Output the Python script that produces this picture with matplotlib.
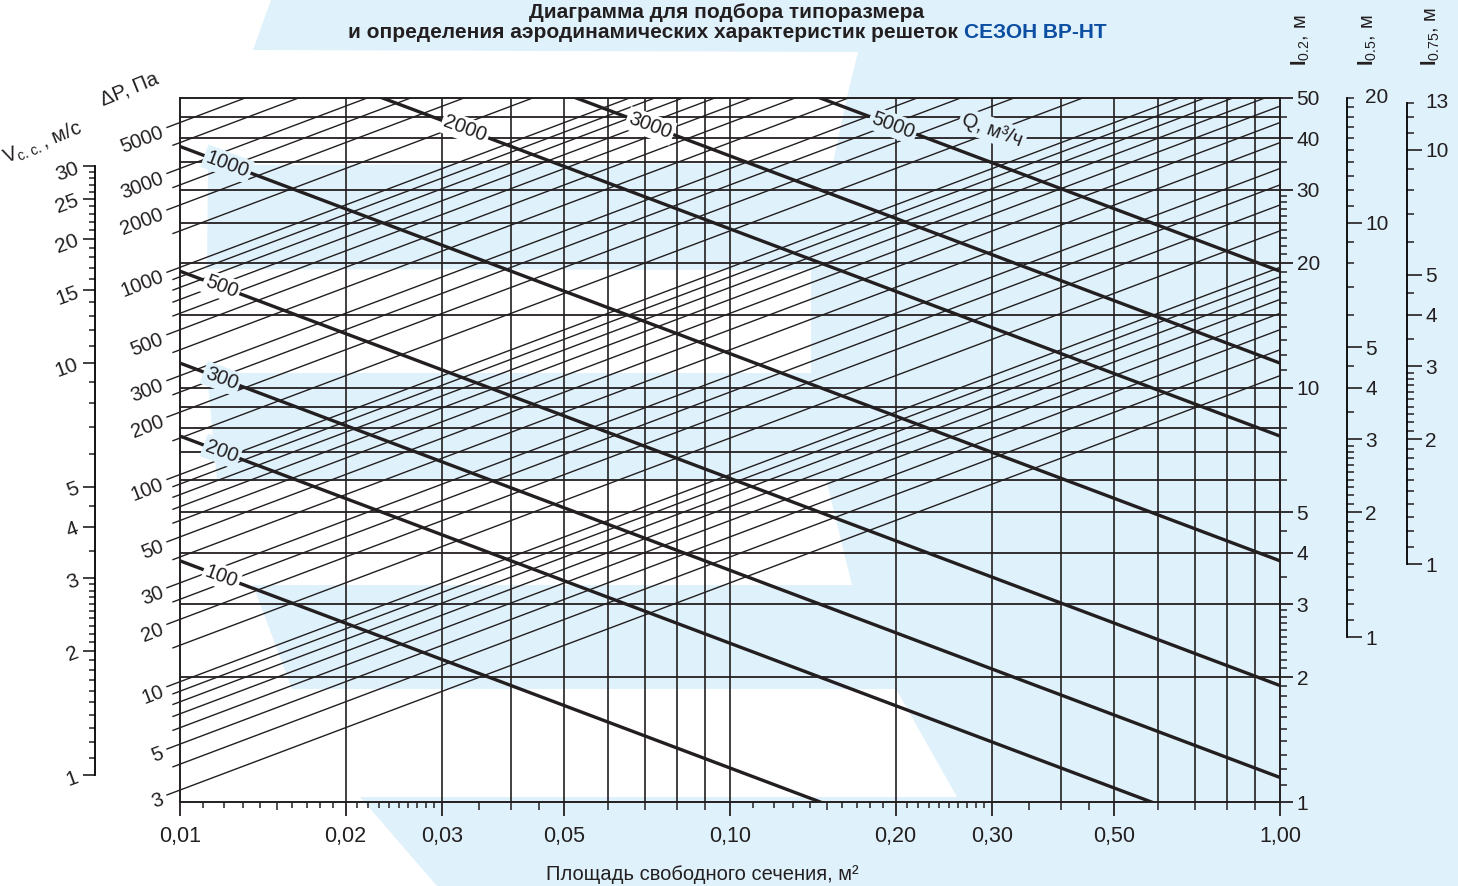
import numpy as np
import matplotlib
matplotlib.use("Agg")
import matplotlib.pyplot as plt
from matplotlib.patches import Polygon
from matplotlib.ticker import FixedLocator, FixedFormatter, NullFormatter
from matplotlib import font_manager

# ---- values ----
flow_q = [100, 200, 300, 500, 1000, 2000, 3000, 5000]            # Q, m3/h (thick lines)
flow_label_area = [0.0119, 0.0119, 0.0119, 0.0119, 0.0122, 0.033, 0.0716, 0.198]
dp_lines = [3, 4, 5, 6, 7, 8, 9, 10, 15, 20, 25, 30, 40, 50, 60, 70, 80, 90, 100,
            150, 200, 250, 300, 400, 500, 600, 700, 800, 900, 1000, 1500, 2000,
            2500, 3000, 4000, 5000]                                  # dP, Pa (thin lines)
dp_labeled = [3, 5, 10, 20, 30, 50, 100, 200, 300, 500, 1000, 2000, 3000, 5000]
k_flow = 0.00382    # l0.2 = k_flow * Q / sqrt(A)
k_dp = 6.17         # l0.2 = k_dp * sqrt(dP * A)

area_major = [0.01, 0.02, 0.03, 0.05, 0.10, 0.20, 0.30, 0.50, 1.00]
area_major_txt = ["0,01", "0,02", "0,03", "0,05", "0,10", "0,20", "0,30", "0,50", "1,00"]
area_grid = [0.02, 0.03, 0.04, 0.05, 0.06, 0.07, 0.08, 0.09, 0.10,
             0.2, 0.3, 0.4, 0.5, 0.6, 0.7, 0.8, 0.9]
area_mid = [0.015, 0.035, 0.04, 0.045, 0.06, 0.07, 0.08, 0.09,
            0.15, 0.35, 0.4, 0.45, 0.6, 0.7, 0.8, 0.9]
area_small = [0.011, 0.012, 0.013, 0.014, 0.016, 0.017, 0.018, 0.019,
              0.021, 0.022, 0.023, 0.024, 0.025, 0.026, 0.027, 0.028, 0.029,
              0.11, 0.12, 0.13, 0.14, 0.16, 0.17, 0.18, 0.19,
              0.21, 0.22, 0.23, 0.24, 0.25, 0.26, 0.27, 0.28, 0.29]

tenths_1_3 = [1.1, 1.2, 1.3, 1.4, 1.5, 1.6, 1.7, 1.8, 1.9,
              2.1, 2.2, 2.3, 2.4, 2.5, 2.6, 2.7, 2.8, 2.9, 3.5, 4.5, 6, 7, 8, 9]
l02_major = [1, 2, 3, 4, 5, 10, 20, 30, 40, 50]
l02_minor = tenths_1_3 + [11, 12, 13, 14, 15, 16, 17, 18, 19,
                          21, 22, 23, 24, 25, 26, 27, 28, 29, 35, 45]
l02_grid = [2, 3, 4, 5, 6, 7, 8, 9, 10, 15, 20, 25, 30, 35, 40, 45]

v_major = [1, 2, 3, 4, 5, 10, 15, 20, 25, 30]
v_minor = tenths_1_3 + [11, 12, 13, 14, 16, 17, 18, 19, 21, 22, 23, 24, 26, 27, 28, 29]

l05_major = [1, 2, 3, 4, 5, 10]
l05_minor = tenths_1_3 + [11, 12, 13, 14, 15, 16, 17, 18, 19, 20]
l075_major = [1, 2, 3, 4, 5, 10]
l075_minor = tenths_1_3 + [11, 12, 13]

INK = "#231f20"
BLUE_BG = "#dff1fb"
BRAND = "#0b4ea2"

names = {f.name for f in font_manager.fontManager.ttflist}
FONT = "Liberation Sans Narrow" if "Liberation Sans Narrow" in names else "Liberation Sans"
plt.rcParams["font.family"] = [FONT, "DejaVu Sans"]
plt.rcParams["mathtext.fontset"] = "custom"
plt.rcParams["mathtext.rm"] = FONT
plt.rcParams["mathtext.bf"] = FONT + ":bold"
plt.rcParams["mathtext.default"] = "regular"
plt.rcParams["text.color"] = INK

W, H = 1458, 886
fig = plt.figure(figsize=(W / 100, H / 100), dpi=100)


def fxy(x, y):
    return (x / W, 1 - y / H)


# decorative light-blue background shape
bg_px = [(271, 0), (1458, 0), (1458, 886), (437, 886), (360, 797), (957, 797),
         (896, 689), (292, 689), (253, 585), (852, 585), (826, 479), (217, 480),
         (207, 373), (811, 373), (811, 270), (207, 269), (208, 165), (833, 163),
         (847, 97), (858, 52), (253, 50)]
fig.patches.append(Polygon([fxy(x, y) for x, y in bg_px], closed=True,
                           transform=fig.transFigure, facecolor=BLUE_BG,
                           edgecolor="none", zorder=-5))

L, R, T, B = 180, 1280, 98, 802
ax = fig.add_axes([L / W, 1 - B / H, (R - L) / W, (B - T) / H])
ax.set_facecolor("none")
ax.set_xscale("log")
ax.set_yscale("log")
ax.set_xlim(0.01, 1)
ax.set_ylim(1, 50)
for s in ax.spines.values():
    s.set_linewidth(1.4)
    s.set_color(INK)

for a in area_grid:
    ax.axvline(a, color=INK, lw=1.2, zorder=1)
for v in l02_grid:
    ax.axhline(v, color=INK, lw=1.3, zorder=1)

# thin lines: constant dP
a_in = np.array([0.01, 1.0])
for p in dp_lines:
    ax.plot(a_in, k_dp * np.sqrt(p * a_in), color=INK, lw=1.0, zorder=2)
    ext = 13 if p in dp_labeled else 7
    a0 = 0.01 * 10 ** (-ext / 550)
    a_t = np.array([a0, 0.01])
    ax.plot(a_t, k_dp * np.sqrt(p * a_t), color=INK, lw=1.0, clip_on=False)
    if p in dp_labeled:
        ax.annotate(str(p), xy=(a0, k_dp * np.sqrt(p * a0)), xytext=(-3, -3),
                    textcoords="offset points", ha="right", va="center",
                    rotation=21, rotation_mode="anchor", fontsize=14.5,
                    annotation_clip=False)

# thick lines: constant Q
label_bg = {100: "white", 200: BLUE_BG, 300: BLUE_BG, 500: "white",
            1000: BLUE_BG, 2000: "white", 3000: "white", 5000: BLUE_BG}
for q, a_lab in zip(flow_q, flow_label_area):
    ax.plot(a_in, k_flow * q / np.sqrt(a_in), color=INK, lw=2.4, zorder=3,
            solid_capstyle="butt")
    ax.text(a_lab, k_flow * q / np.sqrt(a_lab), str(q), rotation=-20.6,
            rotation_mode="anchor", ha="center", va="center", fontsize=14.5,
            zorder=6, bbox=dict(boxstyle="square,pad=0.12", fc=label_bg[q], ec="none"))
ax.text(0.30, 41.8, "Q, м³/ч", rotation=-20.6, rotation_mode="anchor",
        ha="center", va="center", fontsize=14.5, zorder=6,
        bbox=dict(boxstyle="square,pad=0.15", fc=BLUE_BG, ec="none"))

# bottom axis
ax.xaxis.set_major_locator(FixedLocator(area_major))
ax.xaxis.set_major_formatter(FixedFormatter(area_major_txt))
ax.xaxis.set_minor_locator(FixedLocator(area_mid + area_small))
ax.xaxis.set_minor_formatter(NullFormatter())
ax.tick_params(axis="x", which="major", length=10, width=1.3, labelsize=15.5,
               pad=7.5, colors=INK)
ax.tick_params(axis="x", which="minor", length=4.3, width=1.1, colors=INK)
ax.tick_params(axis="x", which="both", top=False)
for t in ax.xaxis.get_minor_ticks()[:len(area_mid)]:
    t.tick1line.set_markersize(5.8)

# right axis l0.2
ax.yaxis.tick_right()
ax.yaxis.set_major_locator(FixedLocator(l02_major))
ax.yaxis.set_major_formatter(FixedFormatter([str(v) for v in l02_major]))
ax.yaxis.set_minor_locator(FixedLocator(l02_minor))
ax.yaxis.set_minor_formatter(NullFormatter())
ax.tick_params(axis="y", which="major", length=9.4, width=1.3, labelsize=15,
               pad=2.5, colors=INK)
ax.tick_params(axis="y", which="minor", length=5, width=1.1, colors=INK)


def side_axis(xpx, lo, hi):
    a = fig.add_axes([xpx / W, 1 - B / H, 0.0001, (B - T) / H])
    a.set_facecolor("none")
    a.set_yscale("log")
    a.set_ylim(lo, hi)
    a.set_xticks([])
    for s in ["top", "bottom"]:
        a.spines[s].set_visible(False)
    return a


# left velocity scale
axv = side_axis(95, 0.8603, 43.85)
axv.spines["right"].set_visible(False)
axv.spines["left"].set_bounds(1, 30)
axv.spines["left"].set_linewidth(1.3)
axv.yaxis.set_major_locator(FixedLocator(v_major))
axv.yaxis.set_major_formatter(FixedFormatter([str(v) for v in v_major]))
axv.yaxis.set_minor_locator(FixedLocator(v_minor))
axv.yaxis.set_minor_formatter(NullFormatter())
axv.tick_params(axis="y", which="major", length=9, width=1.2, labelsize=15,
                labelrotation=20, pad=1, colors=INK)
axv.tick_params(axis="y", which="minor", length=4.5, width=1.1, colors=INK)

# right scales l0.5 and l0.75
for xpx, ratio, majors, minors, cap in [(1347, 2.5, l05_major, l05_minor, 20),
                                         (1407, 50 / 13.333, l075_major, l075_minor, 13)]:
    ar = side_axis(xpx, 1 / ratio, 50 / ratio)
    ar.spines["left"].set_visible(False)
    ar.spines["right"].set_bounds(1, cap)
    ar.spines["right"].set_linewidth(1.3)
    ar.yaxis.tick_right()
    ar.yaxis.set_major_locator(FixedLocator(majors))
    ar.yaxis.set_major_formatter(FixedFormatter([str(v) for v in majors]))
    ar.yaxis.set_minor_locator(FixedLocator(minors))
    ar.yaxis.set_minor_formatter(NullFormatter())
    ar.tick_params(axis="y", which="major", length=11, width=1.2, labelsize=15,
                   pad=2, colors=INK)
    ar.tick_params(axis="y", which="minor", length=5, width=1.1, colors=INK)
    ar.annotate(str(cap), xy=(1, cap), xycoords=("axes fraction", "data"),
                xytext=(13, 0), textcoords="offset points", ha="left",
                va="center", fontsize=15)

# texts
fig.text(*fxy(727, 12), "Диаграмма для подбора типоразмера", ha="center",
         va="center", fontsize=15, fontweight="bold")
part1 = "и определения аэродинамических характеристик решеток "
part2 = "СЕЗОН ВР-НТ"
t1 = fig.text(0, 0, part1, fontsize=15, fontweight="bold")
t2 = fig.text(0, 0, part2, fontsize=15, fontweight="bold", color=BRAND)
r = fig.canvas.get_renderer()
w1 = t1.get_window_extent(r).width
w2 = t2.get_window_extent(r).width
x0 = 727 - (w1 + w2) / 2
t1.set_position(fxy(x0, 33))
t1.set_va("center")
t2.set_position(fxy(x0 + w1, 33))
t2.set_va("center")

fig.text(*fxy(702, 875), "Площадь свободного сечения, м²", ha="center",
         va="center", fontsize=14.5)
fig.text(*fxy(129, 89), "ΔP, Па", ha="center", va="center", fontsize=14.5,
         rotation=22)
fig.text(*fxy(43, 143), r"V$_{\mathregular{c.c.}}$, м/с", ha="center",
         va="center", fontsize=14.5, rotation=22)
for xpx, sub in [(1301, "0.2"), (1368, "0.5"), (1431, "0.75")]:
    fig.text(*fxy(xpx, 66), r"$\mathbf{l}_{\mathregular{" + sub + r"}}$, м",
             ha="center", va="bottom", rotation=90, fontsize=14.5)

fig.savefig("out.png", dpi=100)
